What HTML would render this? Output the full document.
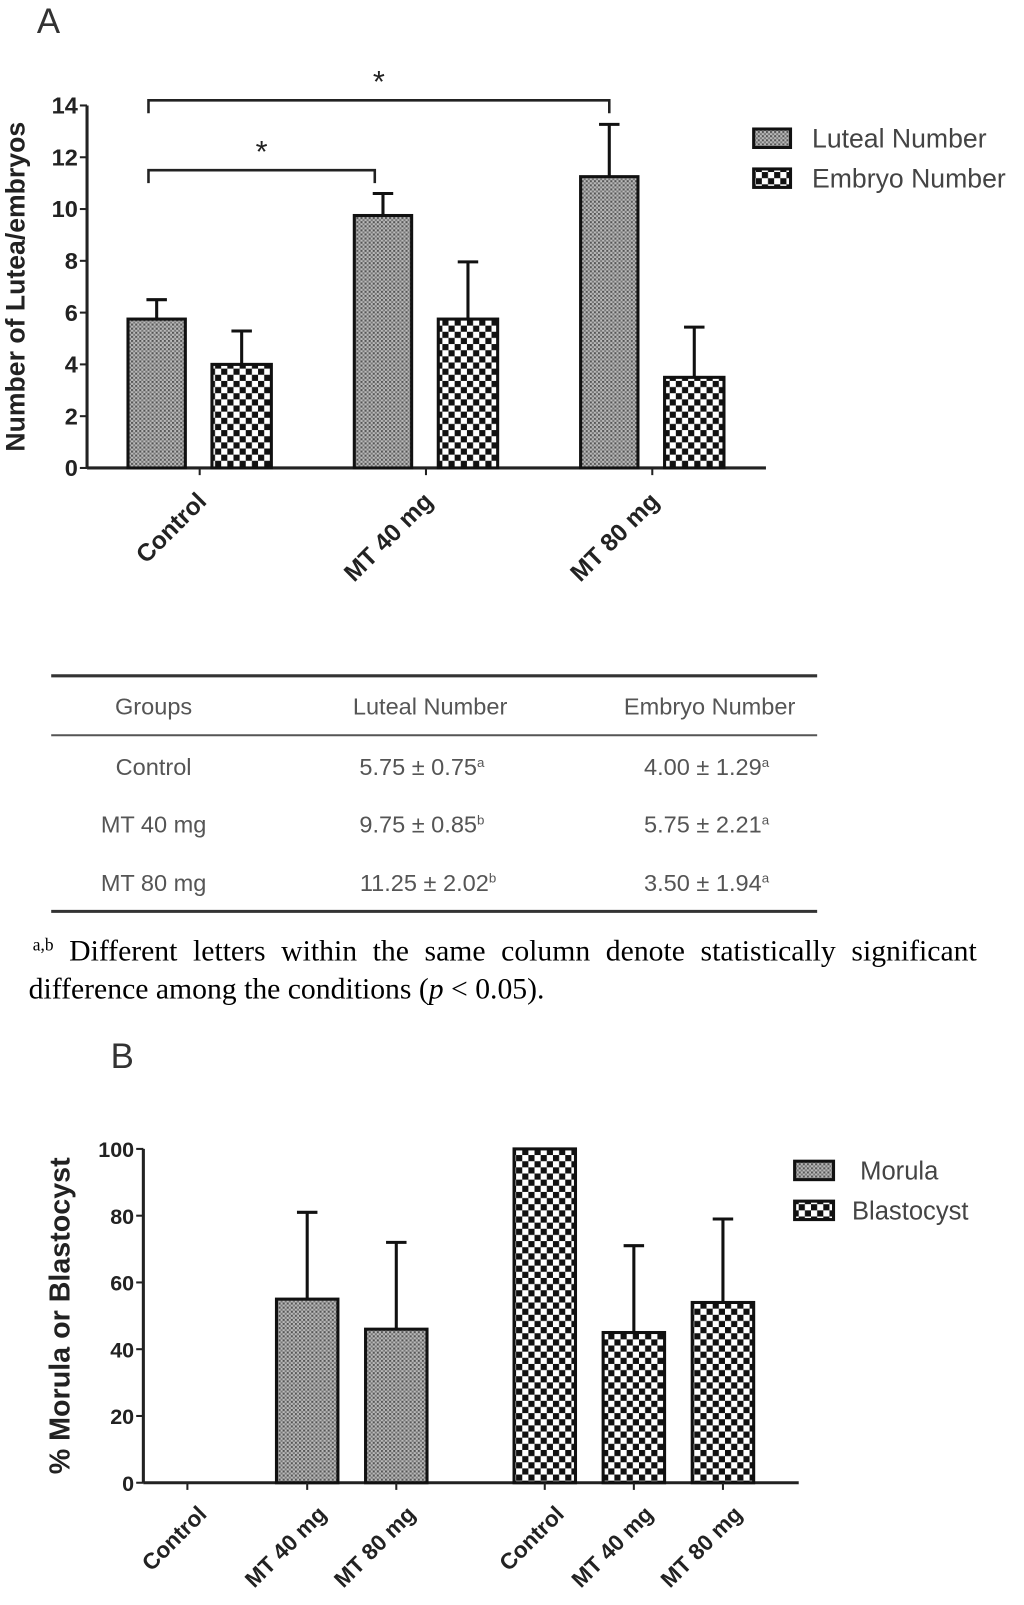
<!DOCTYPE html>
<html><head><meta charset="utf-8"><style>
body{margin:0;background:#fff;width:1024px;height:1605px;overflow:hidden}
svg{display:block}
text{font-family:"Liberation Sans",Arial,sans-serif}
text.serif,text.serif tspan{font-family:"Liberation Serif","Times New Roman",serif}
</style></head><body>
<svg id="s" width="1024" height="1605" viewBox="0 0 1000 1567.4" preserveAspectRatio="none">
<defs>
<pattern id="fine" width="4" height="4" patternUnits="userSpaceOnUse"><rect width="4" height="4" fill="#bbb"/><rect width="2" height="2" fill="#555"/><rect x="2" y="2" width="2" height="2" fill="#777"/></pattern>
<pattern id="check" width="12" height="12" patternUnits="userSpaceOnUse"><rect width="12" height="12" fill="#fff"/><rect width="6" height="6" fill="#111"/><rect x="6" y="6" width="6" height="6" fill="#111"/></pattern>
</defs>
<text x="36" y="32" font-size="34" fill="#333">A</text>
<g id="chartA"></g>
<g id="table">
<line x1="50" y1="660" x2="798" y2="660" stroke="#333" stroke-width="3"/>
<line x1="50" y1="718" x2="798" y2="718" stroke="#555" stroke-width="2"/>
<line x1="50" y1="890" x2="798" y2="890" stroke="#333" stroke-width="3"/>
<g font-size="23" fill="#555" text-anchor="middle">
<text x="150" y="698">Groups</text><text x="420" y="698">Luteal Number</text><text x="693" y="698">Embryo Number</text>
<text x="150" y="757">Control</text><text x="412" y="757">5.75 ± 0.75<tspan font-size="13" dy="-8">a</tspan></text><text x="690" y="757">4.00 ± 1.29<tspan font-size="13" dy="-8">a</tspan></text>
<text x="150" y="813">MT 40 mg</text><text x="412" y="813">9.75 ± 0.85<tspan font-size="13" dy="-8">b</tspan></text><text x="690" y="813">5.75 ± 2.21<tspan font-size="13" dy="-8">a</tspan></text>
<text x="150" y="870">MT 80 mg</text><text x="418" y="870">11.25 ± 2.02<tspan font-size="13" dy="-8">b</tspan></text><text x="690" y="870">3.50 ± 1.94<tspan font-size="13" dy="-8">a</tspan></text>
</g></g>
<g>
<text class="serif" x="32" y="938" font-size="29" word-spacing="8"><tspan font-size="17" dy="-10">a,b</tspan><tspan dy="10"> Different letters within the same column denote statistically significant</tspan></text>
<text class="serif" x="28" y="975" font-size="29">difference among the conditions (<tspan font-style="italic">p</tspan> &lt; 0.05).</text>
</g>
<text x="108" y="1043" font-size="34" fill="#333">B</text>
<g id="chartB"></g>
</svg>
<script>
// Chart A data
const aGroups=["Control","MT 40 mg","MT 80 mg"];
const aLuteal=[5.75,9.75,11.25];
const aLutealErr=[0.75,0.85,2.02];
const aEmbryo=[4.00,5.75,3.50];
const aEmbryoErr=[1.29,2.21,1.94];
const aTicks=[0,2,4,6,8,10,12,14];
// Chart B data
const bCats=["Control","MT 40 mg","MT 80 mg","Control","MT 40 mg","MT 80 mg"];
const bMorula=[0,55,46];
const bMorulaErr=[0,26,26];
const bBlasto=[100,45,54];
const bBlastoErr=[0,26,25];
const bTicks=[0,20,40,60,80,100];

const NS="http://www.w3.org/2000/svg";
function mk(p,t,a){const e=document.createElementNS(NS,t);for(const k in a)e.setAttribute(k,a[k]);p.appendChild(e);return e;}

// ---- Chart A
const A=document.getElementById('chartA');
const ay=v=>457-v*(354/14);
const ax0=85, ax1=748;
mk(A,'line',{x1:ax0,y1:ay(0),x2:ax0,y2:ay(14),stroke:'#222','stroke-width':3});
mk(A,'line',{x1:ax0,y1:ay(0),x2:ax1,y2:ay(0),stroke:'#222','stroke-width':3});
aTicks.forEach(t=>{
 const l=mk(A,'line',{x1:ax0-7,y1:ay(t),x2:ax0,y2:ay(t),stroke:'#222','stroke-width':2});
 
 const tx=mk(A,'text',{x:ax0-9,y:ay(t)+8,'font-size':23,'font-weight':'bold','text-anchor':'end',fill:'#222'});
 tx.textContent=t;
});
const yt=mk(A,'text',{transform:'translate(24,280) rotate(-90)','font-size':26,'font-weight':'bold','text-anchor':'middle',fill:'#222'});
yt.textContent='Number of Lutea/embryos';

const aCenters=aGroups.map((g,i)=>195+i*221);
function bar(P,x,w,v,e,fill,yf,name){
 const y=yf(v),y0=yf(0);
 if(e>0){const ey=yf(v+e);
  const el=mk(P,'path',{d:`M${x+w/2},${y}V${ey}M${x+w/2-10},${ey}H${x+w/2+10}`,stroke:'#111','stroke-width':3,fill:'none'});
  }
 if(v>0){const r=mk(P,'rect',{x:x,y:y,width:w,height:y0-y,fill:fill,stroke:'#111','stroke-width':3});
 }
}
aGroups.forEach((g,i)=>{
 const c=aCenters[i];
 bar(A,c-70,56,aLuteal[i],aLutealErr[i],'url(#fine)',ay,'bar-luteal-'+i);
 bar(A,c+12,58,aEmbryo[i],aEmbryoErr[i],'url(#check)',ay,'bar-embryo-'+i);
 const tk=mk(A,'line',{x1:c,y1:ay(0),x2:c,y2:ay(0)+7,stroke:'#222','stroke-width':2});
 
 const lb=mk(A,'text',{transform:`translate(${c+8},${ay(0)+34}) rotate(-45)`,'font-size':24,'font-weight':'bold','text-anchor':'end',fill:'#222'});
 lb.textContent=g;
});
[[aCenters[0]-50,aCenters[1]-50,ay(11.5),ay(11)],[aCenters[0]-50,aCenters[2]-42,ay(14.2),ay(13.7)]].forEach((b,i)=>{
 const p=mk(A,'path',{d:`M${b[0]},${b[3]}V${b[2]}H${b[1]}V${b[3]}`,stroke:'#222','stroke-width':2.5,fill:'none'});
 
 const s=mk(A,'text',{x:(b[0]+b[1])/2,y:b[2]-8,'font-size':30,'text-anchor':'middle',fill:'#222'});
 s.textContent='*';
});
[['Luteal Number','url(#fine)',135],['Embryo Number','url(#check)',174]].forEach(([t,f,y])=>{
 const g=mk(A,'g',{});
 mk(g,'rect',{x:736,y:y-9,width:36,height:18,fill:f,stroke:'#111','stroke-width':3});
 const tx=mk(g,'text',{x:793,y:y+9,'font-size':26,fill:'#444'});tx.textContent=t;
});

// ---- Chart B
const B=document.getElementById('chartB');
const by=v=>1448-v*3.26;
const bx0=140,bx1=780;
mk(B,'line',{x1:bx0,y1:by(0),x2:bx0,y2:by(100),stroke:'#222','stroke-width':3});
mk(B,'line',{x1:bx0,y1:by(0),x2:bx1,y2:by(0),stroke:'#222','stroke-width':3});
bTicks.forEach(t=>{
 const l=mk(B,'line',{x1:bx0-7,y1:by(t),x2:bx0,y2:by(t),stroke:'#222','stroke-width':2});
 
 const tx=mk(B,'text',{x:bx0-9,y:by(t)+8,'font-size':21,'font-weight':'bold','text-anchor':'end',fill:'#222'});
 tx.textContent=t;
});
const yb=mk(B,'text',{transform:'translate(68,1285) rotate(-90)','font-size':28,'font-weight':'bold','text-anchor':'middle',fill:'#222'});
yb.textContent='% Morula or Blastocyst';

const bCenters=[183,300,387,532,619,706];
bCats.forEach((c,i)=>{
 const m=i<3;const v=m?bMorula[i]:bBlasto[i-3];const e=m?bMorulaErr[i]:bBlastoErr[i-3];
 bar(B,bCenters[i]-30,60,v,e,m?'url(#fine)':'url(#check)',by,(m?'bar-morula-':'bar-blastocyst-')+(i%3));
 const tk=mk(B,'line',{x1:bCenters[i],y1:by(0),x2:bCenters[i],y2:by(0)+7,stroke:'#222','stroke-width':2});
 
 const lb=mk(B,'text',{transform:`translate(${bCenters[i]+20},${by(0)+32}) rotate(-45)`,'font-size':22,'font-weight':'bold','text-anchor':'end',fill:'#222'});
 lb.textContent=c;
});
[['Morula','url(#fine)',1143],['Blastocyst','url(#check)',1182]].forEach(([t,f,y])=>{
 const g=mk(B,'g',{});
 mk(g,'rect',{x:776,y:y-9,width:38,height:18,fill:f,stroke:'#111','stroke-width':3});
 const tx=mk(g,'text',{x:t==='Morula'?840:832,y:y+9,'font-size':25,fill:'#444'});tx.textContent=t;
});
</script>
</body></html>
